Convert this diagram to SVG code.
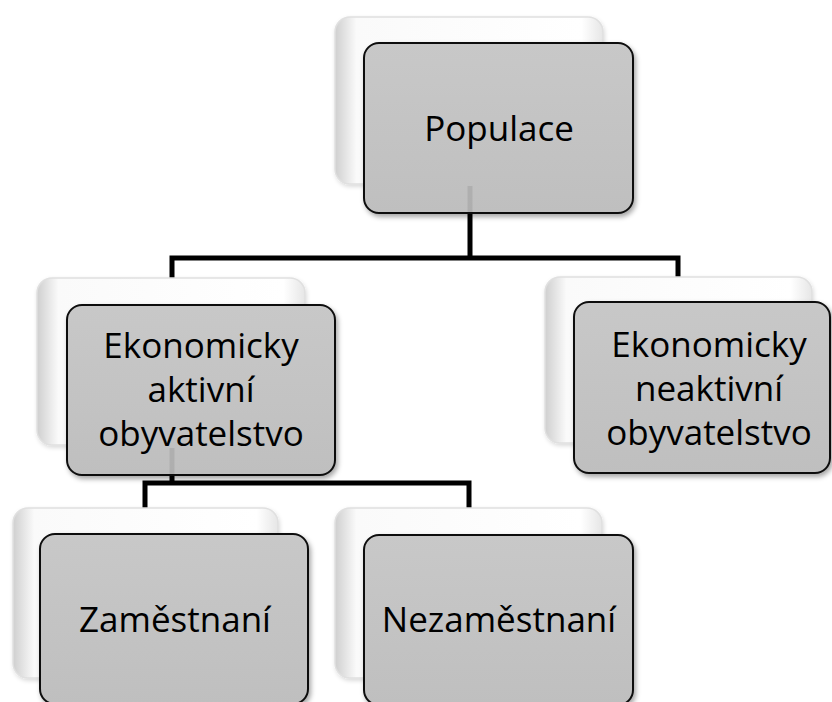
<svg xmlns="http://www.w3.org/2000/svg" width="832" height="702" viewBox="0 0 832 702">
<style>
.back{fill:url(#gBack);stroke:#e0e0e0;stroke-width:1.5;filter:url(#shBack)}
.front{fill:url(#gFront);stroke:#111;stroke-width:2;filter:url(#shFront)}
.lbl{font-family:"Open Sans","Noto Sans",sans-serif;font-size:35px;fill:#000;text-anchor:middle}
.conn{fill:none;stroke:#000;stroke-width:5;stroke-linejoin:miter}
.ghost{stroke:#a8a8a8;stroke-width:5;opacity:0.7}
</style>
<defs>
<linearGradient id="gBack" x1="0" y1="0" x2="1" y2="0">
<stop offset="0" stop-color="#cfcfcf"/>
<stop offset="0.08" stop-color="#fafafa"/>
<stop offset="0.92" stop-color="#ffffff"/>
<stop offset="1" stop-color="#e6e6e6"/>
</linearGradient>
<linearGradient id="gFront" x1="0" y1="0" x2="0" y2="1">
<stop offset="0" stop-color="#c8c8c8"/>
<stop offset="1" stop-color="#bfbfbf"/>
</linearGradient>
<filter id="shFront" x="-10%" y="-10%" width="125%" height="125%">
<feDropShadow dx="2" dy="3" stdDeviation="2.5" flood-color="#000" flood-opacity="0.35"/>
</filter>
<filter id="shBack" x="-10%" y="-10%" width="125%" height="125%">
<feDropShadow dx="1" dy="2" stdDeviation="2" flood-color="#000" flood-opacity="0.15"/>
</filter>
</defs>
<g id="connectors">
<path class="conn" d="M470,213 V258 M172,282 V258 H678 V277"/>
<path class="conn" d="M172,475 V483 M145,508 V483 H469 V508"/>
</g>
<g id="node-populace">
<rect class="back" x="335" y="17" width="268" height="167" rx="15"/>
<rect class="front" x="364" y="43" width="269" height="170" rx="15"/>
<line class="ghost" x1="470" y1="186" x2="470" y2="212"/>
<text class="lbl" x="499" y="141">Populace</text>
</g>
<g id="node-aktivni">
<rect class="back" x="37" y="278" width="268" height="167" rx="15"/>
<rect class="front" x="67" y="305" width="268" height="170" rx="15"/>
<line class="ghost" x1="172" y1="448" x2="172" y2="474"/>
<text class="lbl" x="201" y="358">Ekonomicky</text>
<text class="lbl" x="201" y="402">aktivní</text>
<text class="lbl" x="201" y="446">obyvatelstvo</text>
</g>
<g id="node-neaktivni">
<rect class="back" x="545" y="277" width="267" height="166" rx="15"/>
<rect class="front" x="574" y="302" width="256" height="171" rx="15"/>
<text class="lbl" x="709" y="357">Ekonomicky</text>
<text class="lbl" x="709" y="401">neaktivní</text>
<text class="lbl" x="709" y="445">obyvatelstvo</text>
</g>
<g id="node-zamestnani">
<rect class="back" x="13" y="508" width="265" height="170" rx="15"/>
<rect class="front" x="40" y="534" width="268" height="170" rx="15"/>
<text class="lbl" x="175" y="632">Zaměstnaní</text>
</g>
<g id="node-nezamestnani">
<rect class="back" x="335" y="508" width="267" height="170" rx="15"/>
<rect class="front" x="364" y="535" width="269" height="170" rx="15"/>
<text class="lbl" x="499" y="632">Nezaměstnaní</text>
</g>
</svg>
